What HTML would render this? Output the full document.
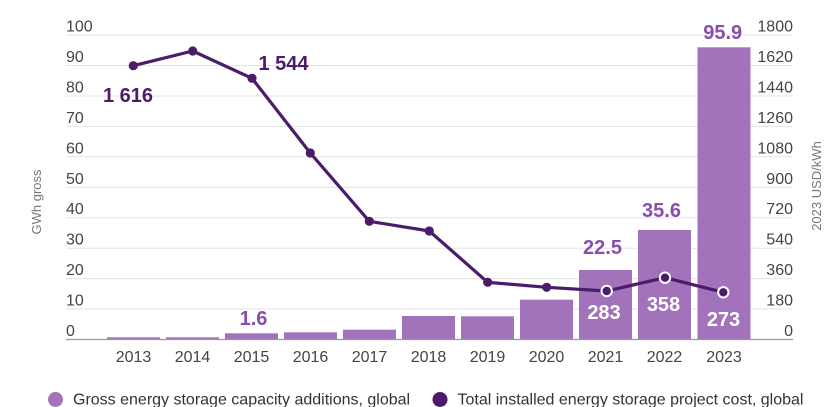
<!DOCTYPE html>
<html>
<head>
<meta charset="utf-8">
<style>
html,body{margin:0;padding:0;background:#fff;}
body{width:837px;height:407px;overflow:hidden;}
svg{display:block;font-family:"Liberation Sans",Arial,sans-serif;}
</style>
</head>
<body>
<svg width="837" height="407" viewBox="0 0 837 407" xmlns="http://www.w3.org/2000/svg">
  <!-- gridlines -->
  <g stroke="#e3e3e3" stroke-width="1">
    <line x1="66" y1="35" x2="793" y2="35"/>
    <line x1="66" y1="65.5" x2="793" y2="65.5"/>
    <line x1="66" y1="96" x2="793" y2="96"/>
    <line x1="66" y1="126.4" x2="793" y2="126.4"/>
    <line x1="66" y1="156.8" x2="793" y2="156.8"/>
    <line x1="66" y1="187.3" x2="793" y2="187.3"/>
    <line x1="66" y1="217.7" x2="793" y2="217.7"/>
    <line x1="66" y1="248.2" x2="793" y2="248.2"/>
    <line x1="66" y1="278.6" x2="793" y2="278.6"/>
    <line x1="66" y1="309" x2="793" y2="309"/>
  </g>

  <!-- left tick labels -->
  <g fill="#444" font-size="16" text-anchor="start">
    <text x="66" y="31.5">100</text>
    <text x="66" y="62">90</text>
    <text x="66" y="92.5">80</text>
    <text x="66" y="122.9">70</text>
    <text x="66" y="153.3">60</text>
    <text x="66" y="183.8">50</text>
    <text x="66" y="214.2">40</text>
    <text x="66" y="244.7">30</text>
    <text x="66" y="275.1">20</text>
    <text x="66" y="305.5">10</text>
    <text x="66" y="336">0</text>
  </g>

  <!-- right tick labels -->
  <g fill="#444" font-size="16" text-anchor="end">
    <text x="793" y="31.5">1800</text>
    <text x="793" y="62">1620</text>
    <text x="793" y="92.5">1440</text>
    <text x="793" y="122.9">1260</text>
    <text x="793" y="153.3">1080</text>
    <text x="793" y="183.8">900</text>
    <text x="793" y="214.2">720</text>
    <text x="793" y="244.7">540</text>
    <text x="793" y="275.1">360</text>
    <text x="793" y="305.5">180</text>
    <text x="793" y="336">0</text>
  </g>

  <!-- axis titles -->
  <text transform="translate(41,202) rotate(-90)" text-anchor="middle" font-size="13" fill="#777">GWh gross</text>
  <text transform="translate(821,186) rotate(-90)" text-anchor="middle" font-size="13" fill="#777">2023 USD/kWh</text>

  <!-- bars -->
  <g fill="#a272ba">
    <rect x="107" y="337.3" width="53" height="2.5"/>
    <rect x="166" y="337.3" width="53" height="2.5"/>
    <rect x="225" y="333.3" width="53" height="6.5"/>
    <rect x="284" y="332.3" width="53" height="7.5"/>
    <rect x="343" y="329.7" width="53" height="10.1"/>
    <rect x="402" y="316" width="53" height="23.8"/>
    <rect x="461" y="316.3" width="53" height="23.5"/>
    <rect x="520" y="299.7" width="53" height="40.1"/>
    <rect x="579" y="270" width="53" height="69.8"/>
    <rect x="638" y="230" width="53" height="109.8"/>
    <rect x="697.5" y="47.3" width="53" height="292.5"/>
  </g>

  <!-- baseline axis -->
  <line x1="66" y1="339.5" x2="793" y2="339.5" stroke="#999" stroke-width="1.2"/>

  <!-- x labels -->
  <g fill="#444" font-size="16" text-anchor="middle">
    <text x="133.5" y="362">2013</text>
    <text x="192.5" y="362">2014</text>
    <text x="251.5" y="362">2015</text>
    <text x="310.5" y="362">2016</text>
    <text x="369.5" y="362">2017</text>
    <text x="428.5" y="362">2018</text>
    <text x="487.5" y="362">2019</text>
    <text x="546.5" y="362">2020</text>
    <text x="605.5" y="362">2021</text>
    <text x="664.5" y="362">2022</text>
    <text x="724" y="362">2023</text>
  </g>

  <!-- line -->
  <polyline fill="none" stroke="#4a1c6a" stroke-width="3.2" stroke-linejoin="round"
    points="133.3,65.7 192.7,51 252,78.3 310.3,153 369.3,221.3 429.3,231 487.7,282.3 546.7,287.3 606.7,291 665,277.7 723.3,292.3"/>
  <g fill="#4a1c6a">
    <circle cx="133.3" cy="65.7" r="4.6"/>
    <circle cx="192.7" cy="51" r="4.6"/>
    <circle cx="252" cy="78.3" r="4.6"/>
    <circle cx="310.3" cy="153" r="4.6"/>
    <circle cx="369.3" cy="221.3" r="4.6"/>
    <circle cx="429.3" cy="231" r="4.6"/>
    <circle cx="487.7" cy="282.3" r="4.6"/>
    <circle cx="546.7" cy="287.3" r="4.6"/>
  </g>
  <g fill="#4a1c6a" stroke="#fff" stroke-width="2">
    <circle cx="606.7" cy="291" r="5.2"/>
    <circle cx="665" cy="277.7" r="5.2"/>
    <circle cx="723.3" cy="292.3" r="5.2"/>
  </g>

  <!-- line labels -->
  <g font-size="20" font-weight="bold" text-anchor="middle" fill="#4a1c6a">
    <text x="128" y="102">1 616</text>
    <text x="283.5" y="70">1 544</text>
  </g>
  <g font-size="20" font-weight="bold" text-anchor="middle" fill="#ffffff">
    <text x="604" y="319">283</text>
    <text x="663.5" y="311">358</text>
    <text x="723.5" y="326">273</text>
  </g>

  <!-- bar labels -->
  <g font-size="20" font-weight="bold" text-anchor="middle" fill="#8a4dab">
    <text x="253.5" y="325">1.6</text>
    <text x="602.5" y="254">22.5</text>
    <text x="661.5" y="217">35.6</text>
    <text x="722.7" y="39">95.9</text>
  </g>

  <!-- legend -->
  <circle cx="55.5" cy="399.5" r="7.5" fill="#a272ba"/>
  <text x="73" y="404.5" font-size="16" fill="#333">Gross energy storage capacity additions, global</text>
  <circle cx="440" cy="399.5" r="7.5" fill="#4a1c6a"/>
  <text x="457.5" y="404.5" font-size="16" fill="#333">Total installed energy storage project cost, global</text>
</svg>
</body>
</html>
